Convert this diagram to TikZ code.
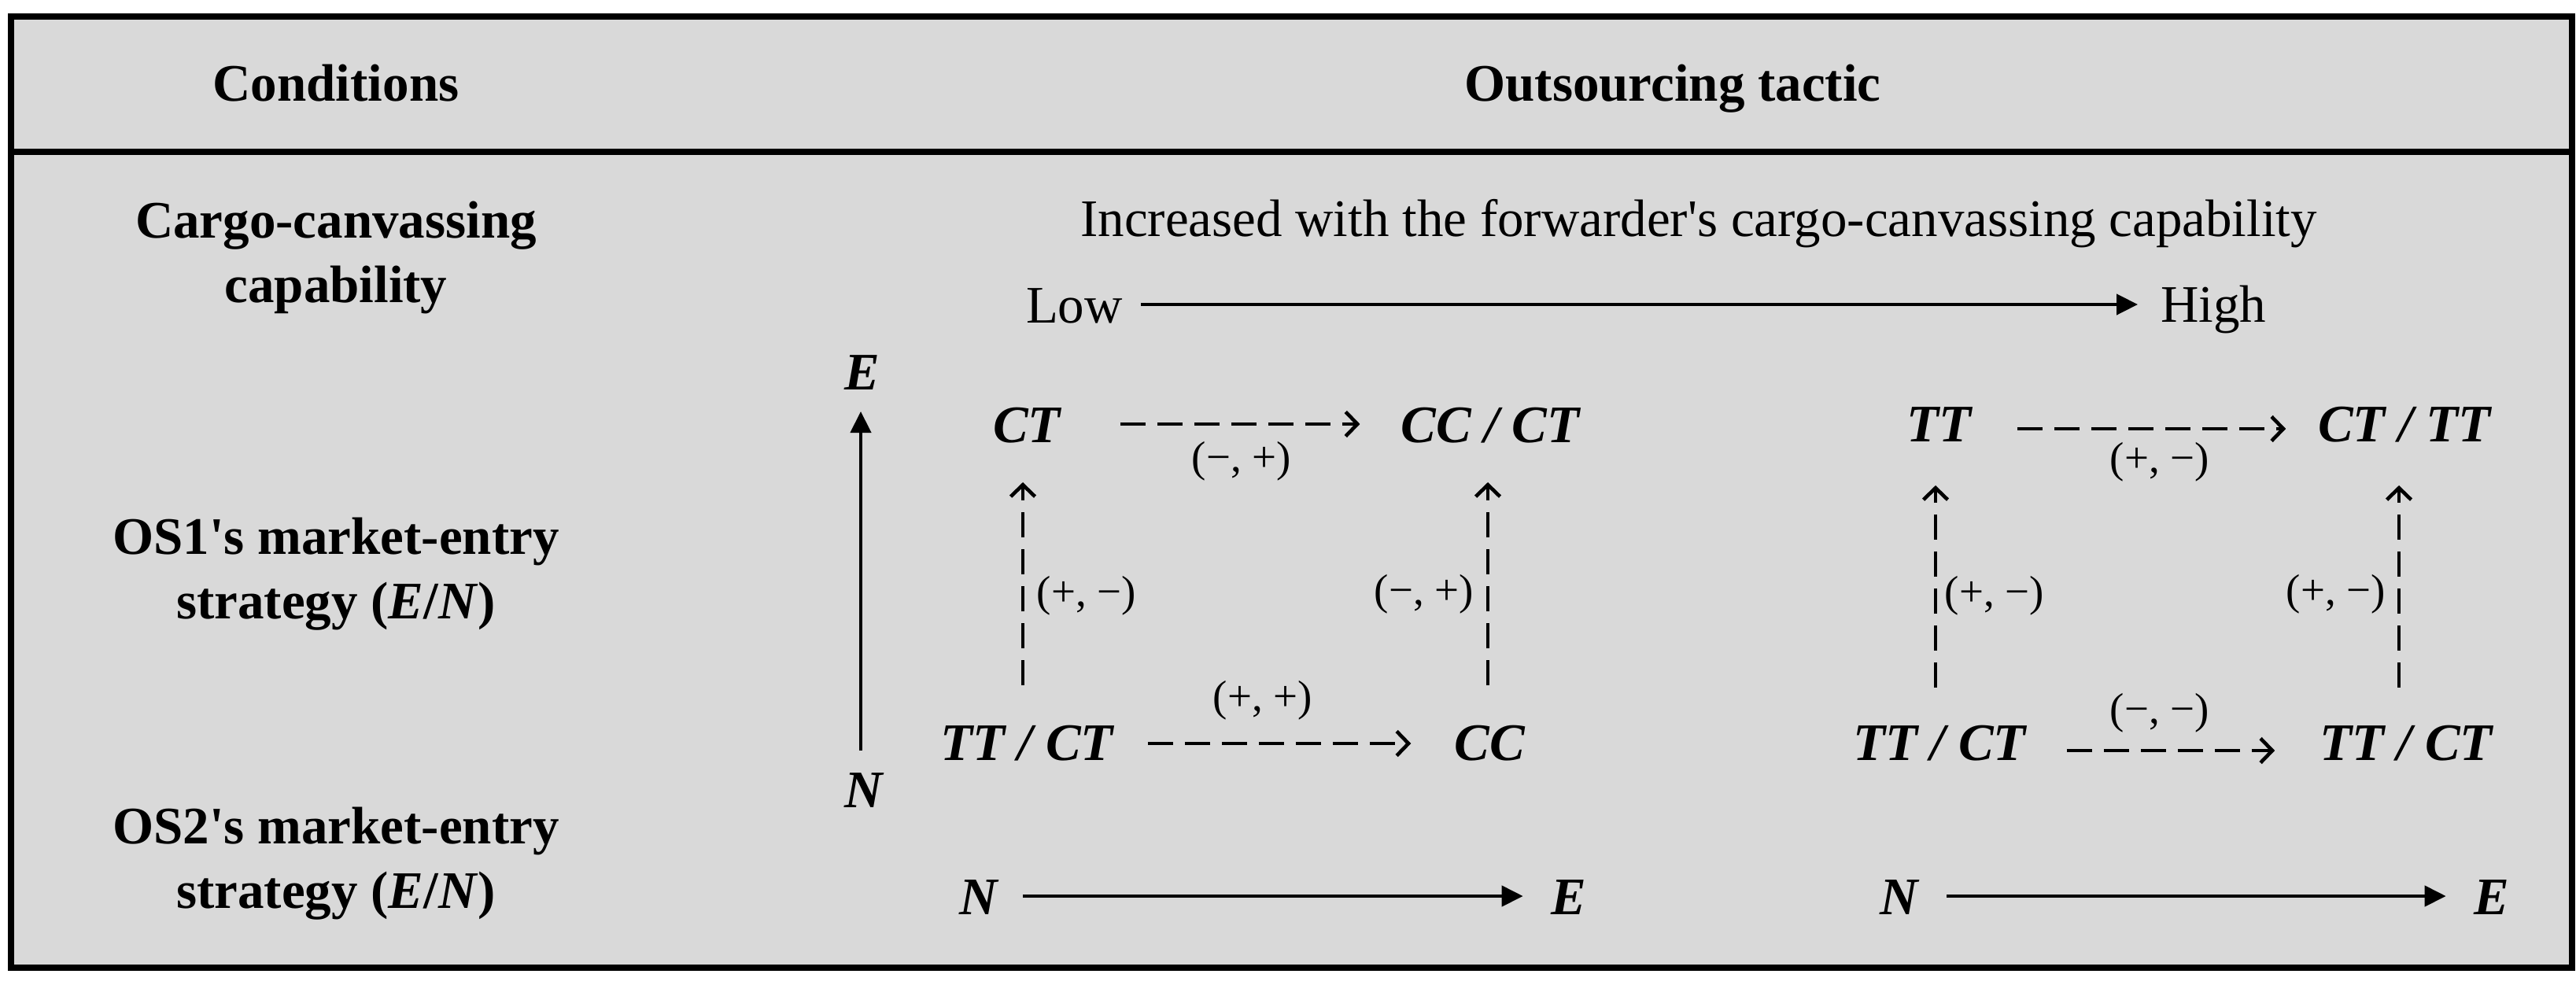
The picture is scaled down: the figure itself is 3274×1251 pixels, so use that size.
\documentclass[tikz,border=0pt]{standalone}
\usepackage{fontspec}
\setmainfont{Liberation Serif}
\newfontfamily\tnr{Liberation Serif}
\usetikzlibrary{arrows.meta}
\definecolor{bggray}{HTML}{D9D9D9}
\begin{document}
\begin{tikzpicture}[x=1pt,y=-1pt,
  tightbox/.style={inner sep=0pt, outer sep=0pt},
  plaintext/.style={tightbox, font=\tnr\fontsize{67}{81}\selectfont},
  cond/.style={tightbox, font=\tnr\fontsize{67}{82}\selectfont\bfseries, align=center},
  stbox/.style={tightbox, font=\tnr\fontsize{67}{80}\selectfont\bfseries\itshape, text height=46pt, text depth=0pt, anchor=base},
  fixedh/.style={text height=46pt, text depth=0pt},
  signlbl/.style={tightbox, font=\tnr\fontsize{55}{60}\selectfont},
  dasharrow/.style={line width=4.6pt, dash pattern=on 32pt off 15pt, -{Straight Barb[length=15pt,width=31pt]}},
  solidarrow/.style={line width=4.4pt, -{Triangle[length=27pt,width=26pt]}},
  frameline/.style={line width=8pt}
]
\useasboundingbox (0,0) rectangle (3274,1251);
% frame
\draw[frameline, fill=bggray] (14,21) rectangle (3269,1230);
\draw[frameline] (14,193) -- (3269,193);

% header
\node[cond, anchor=base] (hcond) at (427,128) {Conditions};
\node[cond, anchor=base] (htac) at (2126,128) {Outsourcing tactic};

% left column
\node[cond] (ccap) at (427,327.5) {Cargo-canvassing\\capability};
\node[cond] (os1) at (427,729.5) {OS1's market-entry\\strategy (\textit{E}/\textit{N})};
\node[cond] (os2) at (427,1097.5) {OS2's market-entry\\strategy (\textit{E}/\textit{N})};

% capability axis
\node[plaintext, anchor=base] (incr) at (2159,300) {Increased with the forwarder's cargo-canvassing capability};
\node[plaintext, fixedh, anchor=base west] (low) at (1304,410) {Low};
\node[plaintext, fixedh, anchor=base west] (high) at (2746,409) {High};
\draw[solidarrow, shorten <=23pt, shorten >=29pt] (low.east) -- (low.east -| high.west);

% OS1 axis
\node[stbox] (axE) at (1096,495) {E};
\node[stbox] (axN) at (1098,1026) {N};
\draw[solidarrow, shorten <=26pt, shorten >=28pt] ([xshift=-4pt]axN.north) -- ([xshift=-4pt]axN.north |- axE.south);

% square 1
\node[stbox] (a1) at (1305,562) {CT};
\node[stbox] (b1) at (1894,562) {CC / CT};
\node[stbox] (c1) at (1305,966) {TT / CT};
\node[stbox] (d1) at (1893,966) {CC};
\draw[dasharrow, shorten <=76pt, shorten >=52pt] (a1.east) -- (a1.east -| b1.west);
\draw[dasharrow, shorten <=44pt, shorten >=55pt] ([yshift=-2pt]c1.east) -- ([yshift=-2pt]c1.east -| d1.west);
\draw[dasharrow, shorten <=49pt, shorten >=51pt] ([xshift=-5pt]c1.north) -- ([xshift=-5pt]c1.north |- a1.south);
\draw[dasharrow, shorten <=49pt, shorten >=51pt] ([xshift=-2pt]d1.north) -- ([xshift=-2pt]d1.north |- b1.south);
\node[signlbl] (s1t) at (1578,586) {(−, +)};
\node[signlbl] (s1l) at (1381,757) {(+, −)};
\node[signlbl] (s1r) at (1810,755) {(−, +)};
\node[signlbl] (s1b) at (1605,890) {(+, +)};

% square 2
\node[stbox] (a2) at (2464,561) {TT};
\node[stbox] (b2) at (3056,561) {CT / TT};
\node[stbox] (c2) at (2465,966) {TT / CT};
\node[stbox] (d2) at (3058,966) {TT / CT};
\draw[dasharrow, shorten <=59pt, shorten >=41pt] ([yshift=-7pt]a2.east) -- ([yshift=-7pt]a2.east -| b2.west);
\draw[dasharrow, shorten <=52pt, shorten >=57pt] ([yshift=-11pt]c2.east) -- ([yshift=-11pt]c2.east -| d2.west);
\draw[dasharrow, shorten <=46pt, shorten >=56pt] ([xshift=-5pt]c2.north) -- ([xshift=-5pt]c2.north |- a2.south);
\draw[dasharrow, shorten <=46pt, shorten >=56pt] ([xshift=-9pt]d2.north) -- ([xshift=-9pt]d2.north |- b2.south);
\node[signlbl] (s2t) at (2745,587) {(+, −)};
\node[signlbl] (s2l) at (2535,757) {(+, −)};
\node[signlbl] (s2r) at (2969,755) {(+, −)};
\node[signlbl] (s2b) at (2745,906) {(−, −)};

% OS2 axes
\node[stbox] (n1) at (1244,1162) {N};
\node[stbox] (e1) at (1994,1162) {E};
\draw[solidarrow, shorten <=32pt, shorten >=36pt] (n1.east) -- (n1.east -| e1.west);
\node[stbox] (n2) at (2414,1162) {N};
\node[stbox] (e2) at (3167,1162) {E};
\draw[solidarrow, shorten <=36pt, shorten >=36pt] (n2.east) -- (n2.east -| e2.west);
\end{tikzpicture}
\end{document}
